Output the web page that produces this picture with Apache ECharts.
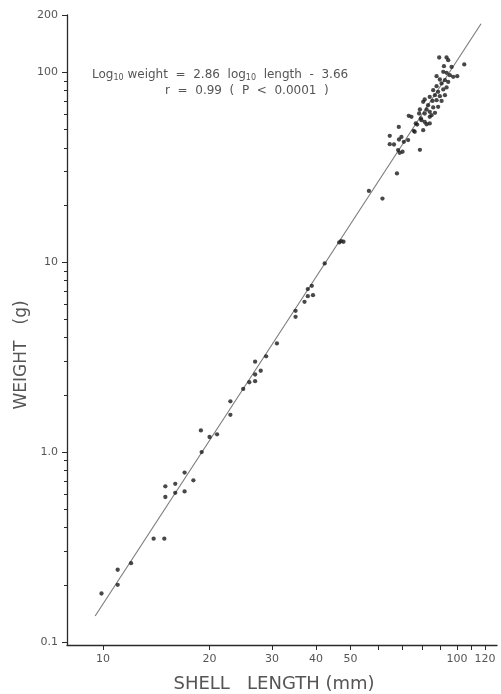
<!DOCTYPE html>
<html><head><meta charset="utf-8">
<script src="https://cdn.jsdelivr.net/npm/echarts@6/dist/echarts.min.js"></script>
<style>html,body{margin:0;padding:0;background:#fff}#c{width:501px;height:694px}</style>
</head><body><div id="c"></div>
<script>
// Shell length (mm) and weight (g)
const shellLength = [9.9,11.0,11.0,12.0,13.9,14.9,15.0,15.0,16.0,16.0,17.0,17.0,18.0,19.0,18.9,20.0,21.0,22.9,22.9,24.9,25.9,26.9,26.9,26.9,27.9,28.9,31.0,35.0,35.0,37.1,37.9,38.9,37.9,39.2,42.3,46.5,47.1,47.8,
  56.4,61.6,67.7,78.6,68.2,68.9,70.2,64.6,66.4,68.6,69.7,72.8,64.6,68.5,75.5,77.2,73.1,74.4,79.1,82.1,78.2,
  89.1,93.5,94.5,104.9,91.9,96.6,87.6,91.5,93.5,95.5,97.6,100.2,89.5,92.5,94.5,90.5,87.6,85.7,88.5,91.5,93.5,
  86.7,89.5,92.5,83.8,81.1,80.3,85.3,87.6,90.5,82.9,85.7,88.5,82.1,83.8,86.7,78.6,81.1,83.8,84.8,79.4,81.1,83.8,76.5,80.3,76.0,70.8];
const weight = [0.18,0.24,0.20,0.26,0.35,0.35,0.58,0.66,0.68,0.61,0.78,0.62,0.71,1.0,1.30,1.20,1.24,1.57,1.85,2.15,2.33,2.36,2.56,2.99,2.68,3.19,3.73,5.54,5.15,6.18,7.21,7.50,6.62,6.70,9.84,12.7,12.9,12.8,
  23.7,21.6,29.3,39.0,38.9,37.6,38.1,41.8,41.6,44.2,45.6,43.9,46.2,51.5,49.1,53.0,58.9,58.2,57.1,53.2,60.6,
  119.5,119.5,115.7,109.8,107.5,106.6,95.3,100.4,99.2,96.4,94.5,95.3,91.5,90.8,88.9,87.2,84.4,80.4,78.8,81.1,83.1,
  75.7,74.8,75.7,74.1,71.8,69.8,70.6,71.2,70.6,67.0,65.2,65.7,63.6,61.8,61.1,63.6,60.6,58.2,59.4,55.9,54.7,53.7,53.7,49.5,48.5,43.0];
// Regression line end points (log10 weight = 2.86 log10 length - 3.66)
const fitLength = [9.5, 117];
const fitWeight = [0.137, 180];
// Axis ticks and labels
const xTicks = [10,20,30,40,50,60,70,80,90,100,110,120];
const xLabels = [10,20,30,40,50,100,120];
const yMajor = [0.1,1,10,100,200];
const yMinor = [0.2,0.3,0.4,0.5,0.6,0.7,0.8,0.9,2,3,4,5,6,7,8,9,20,30,40,50,60,70,80,90];
const yLabelText = {0.1:'0.1',1:'1.0',10:'10',100:'100',200:'200'};

const points = shellLength.map((l,i)=>[l, weight[i]]);
const fitLine = fitLength.map((l,i)=>[l, fitWeight[i]]);

const FONT = 'DejaVu Sans';
const chart = echarts.init(document.getElementById('c'));
const axisCol = '#2a2a2a';
const txtCol = '#555';
chart.setOption({
  animation:false,
  backgroundColor:'#fff',
  grid:{left:67,top:15,right:4,bottom:49,containLabel:false},
  xAxis:{type:'log',logBase:10,min:7.91,max:129.8,
    axisLine:{show:true,lineStyle:{color:axisCol,width:1.3}},
    axisTick:{show:true,inside:false,length:5,customValues:xTicks,lineStyle:{color:axisCol,width:1}},
    axisLabel:{customValues:xLabels,color:txtCol,fontFamily:FONT,fontSize:11,margin:9},
    splitLine:{show:false},minorTick:{show:false}},
  yAxis:[{type:'log',logBase:10,min:0.0964,max:200,
    axisLine:{show:true,lineStyle:{color:axisCol,width:1.3}},
    axisTick:{show:true,length:5,customValues:yMajor,lineStyle:{color:axisCol,width:1}},
    axisLabel:{customValues:yMajor,color:txtCol,fontFamily:FONT,fontSize:11,margin:9,
      formatter:v=>yLabelText[+(+v).toPrecision(3)]||String(v)},
    splitLine:{show:false}},
   {type:'log',logBase:10,min:0.0964,max:200,position:'left',
    axisLine:{show:false},
    axisTick:{show:true,length:3,customValues:yMinor,lineStyle:{color:axisCol,width:1}},
    axisLabel:{show:false},splitLine:{show:false}}],
  series:[
    {type:'line',data:fitLine,symbol:'none',lineStyle:{color:'#7a7a7a',width:1.1},silent:true,z:1},
    {type:'scatter',data:points,symbol:'circle',symbolSize:4.3,itemStyle:{color:'#1a1a1a'},z:2}
  ],
  graphic:[
    {type:'text',left:92,top:68,style:{
      text:'{a|Log}{s|10}{a| weight  =  2.86  log}{s|10}{a|  length  -  3.66}',
      rich:{a:{fontSize:12,fontFamily:FONT,fill:txtCol,lineHeight:14},
            s:{fontSize:8,fontFamily:FONT,fill:txtCol,lineHeight:14,padding:[6,0,0,0]}}}},
    {type:'text',left:165,top:85,style:{text:'r  =  0.99  (  P  <  0.0001  )',fontSize:12,fontFamily:FONT,fill:txtCol}},
    {type:'text',x:274,y:684,style:{text:'SHELL   LENGTH (mm)',fontSize:18,fontFamily:FONT,fill:txtCol,align:'center',verticalAlign:'middle'}},
    {type:'text',x:22,y:355,rotation:Math.PI/2,style:{text:'WEIGHT   (g)',fontSize:17,fontFamily:FONT,fill:txtCol,align:'center',verticalAlign:'middle'}}
  ]
});
</script></body></html>
